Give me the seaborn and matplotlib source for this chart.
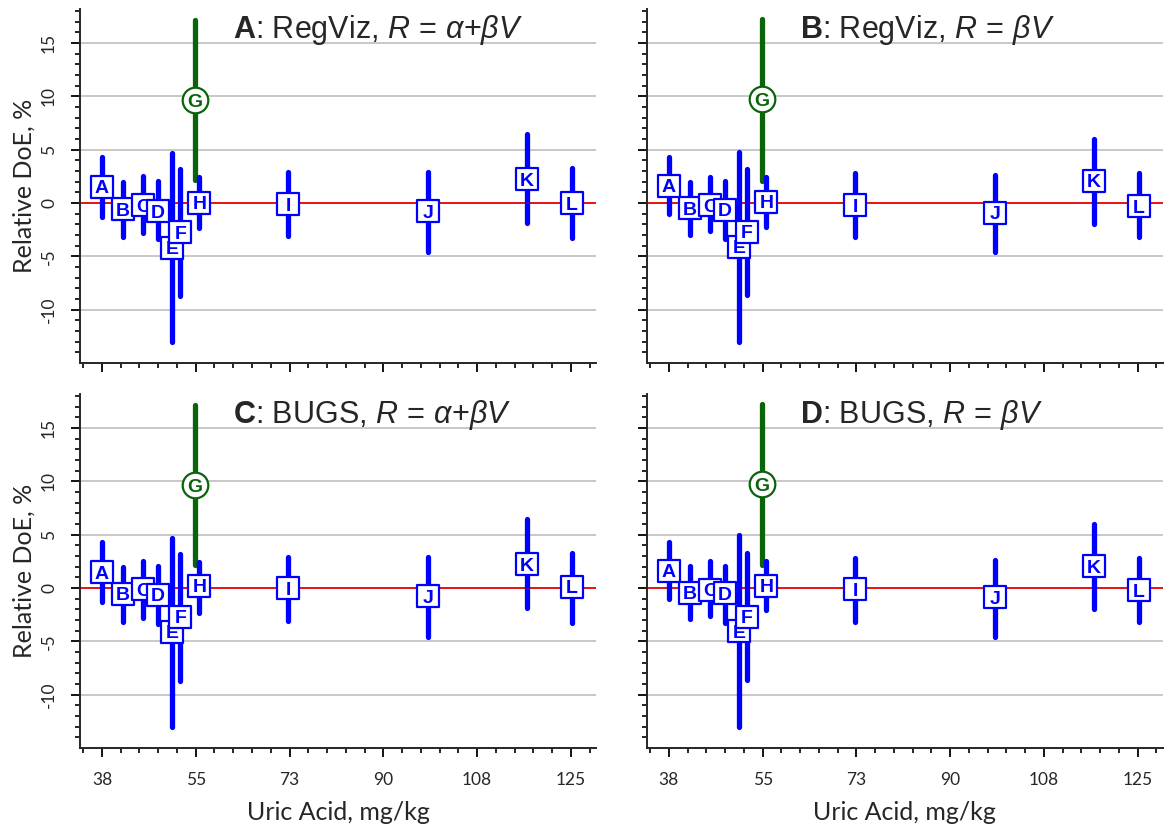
import numpy as np
import pandas as pd
import seaborn as sns
import matplotlib.pyplot as plt
from matplotlib.ticker import FixedLocator

# --- data ---
labels = ["A", "B", "C", "D", "E", "F", "G", "H", "I", "J", "K", "L"]
uric = [37.5, 41.4, 45.2, 48.0, 50.6, 52.1, 54.8, 55.7, 72.3, 98.4, 116.8, 125.2]

# A: RegViz, R = a + bV
est_a = [1.55, -0.6, -0.2, -0.75, -4.2, -2.75, 9.65, 0.05, -0.1, -0.75, 2.25, 0.0]
lo_a = [-1.3, -3.2, -2.8, -3.4, -13.0, -8.7, 2.15, -2.35, -3.1, -4.55, -1.85, -3.25]
hi_a = [4.3, 2.0, 2.5, 2.05, 4.7, 3.15, 17.15, 2.45, 2.9, 2.95, 6.45, 3.25]

# B: RegViz, R = bV
est_b = [1.6, -0.5, -0.2, -0.65, -4.1, -2.7, 9.75, 0.1, -0.2, -0.9, 2.1, -0.3]
lo_b = [-1.0, -2.95, -2.6, -3.4, -13.0, -8.6, 2.1, -2.2, -3.2, -4.6, -1.95, -3.2]
hi_b = [4.3, 2.0, 2.45, 2.05, 4.8, 3.15, 17.3, 2.45, 2.8, 2.6, 6.05, 2.8]

# C: BUGS, R = a + bV
est_c = [1.5, -0.55, -0.1, -0.65, -4.1, -2.7, 9.65, 0.2, 0.0, -0.75, 2.25, 0.1]
lo_c = [-1.3, -3.2, -2.8, -3.4, -13.0, -8.7, 2.15, -2.35, -3.1, -4.55, -1.85, -3.3]
hi_c = [4.3, 2.0, 2.5, 2.05, 4.7, 3.15, 17.15, 2.45, 2.9, 2.95, 6.45, 3.25]

# D: BUGS, R = bV
est_d = [1.6, -0.45, -0.15, -0.5, -4.05, -2.7, 9.75, 0.2, -0.1, -0.85, 2.05, -0.2]
lo_d = [-1.0, -2.9, -2.6, -3.3, -13.0, -8.6, 2.2, -2.1, -3.2, -4.6, -1.95, -3.2]
hi_d = [4.27, 2.02, 2.5, 2.08, 4.97, 3.3, 17.3, 2.5, 2.8, 2.6, 6.05, 2.8]

xticks = [37.5, 55, 72.5, 90, 107.5, 125]
xticklabels = ["38", "55", "73", "90", "108", "125"]
yticks = [-10, -5, 0, 5, 10, 15]

panels = [
    ("A", "RegViz", r"R\,=\,\alpha{+}\beta V", est_a, lo_a, hi_a),
    ("B", "RegViz", r"R\,=\,\beta V", est_b, lo_b, hi_b),
    ("C", "BUGS", r"R\,=\,\alpha{+}\beta V", est_c, lo_c, hi_c),
    ("D", "BUGS", r"R\,=\,\beta V", est_d, lo_d, hi_d),
]

BLUE = "#0000ff"
GREEN = "#0a640a"

sns.set_style("ticks")
plt.rcParams["font.family"] = ["Liberation Sans", "DejaVu Sans"]
plt.rcParams["mathtext.fontset"] = "custom"
plt.rcParams["mathtext.rm"] = "Liberation Sans"
plt.rcParams["mathtext.it"] = "Liberation Sans:italic"
plt.rcParams["mathtext.bf"] = "Liberation Sans:bold"

fig = plt.figure(figsize=(11.75, 8.32), dpi=100)
positions = [
    [0.0681, 0.5637, 0.4391, 0.4255],
    [0.5506, 0.5637, 0.4391, 0.4255],
    [0.0681, 0.1010, 0.4391, 0.4255],
    [0.5506, 0.1010, 0.4391, 0.4255],
]

for k, (letter, method, model, est, lo, hi) in enumerate(panels):
    ax = fig.add_axes(positions[k])
    df = pd.DataFrame({"label": labels, "uric": uric, "est": est, "lo": lo, "hi": hi})
    df["color"] = np.where(df["label"] == "G", GREEN, BLUE)

    ax.set_xlim(33.4, 129.7)
    ax.set_ylim(-15, 18.2)

    for yv in yticks:
        if yv != 0:
            ax.axhline(yv, color="#c4c4c4", lw=1.3, zorder=0)
    ax.axhline(0, color="#e00000", lw=1.3, zorder=1)

    ax.vlines(df["uric"], df["lo"], df["hi"], colors=df["color"], lw=3.8,
              capstyle="round", zorder=2)

    for i, row in df.iterrows():
        is_g = row["label"] == "G"
        sns.scatterplot(x=[row["uric"]], y=[row["est"]], ax=ax,
                        marker="o" if is_g else "s", s=340 if is_g else 270,
                        color="white", edgecolor=row["color"], linewidth=1.6,
                        zorder=3 + 2 * i, legend=False)
        ax.text(row["uric"], row["est"], row["label"], color=row["color"],
                fontsize=14, fontweight="bold", ha="center",
                va="center_baseline", zorder=4 + 2 * i)

    ax.text(0.296, 0.94, r"$\mathbf{%s}$: %s, $%s$" % (letter, method, model),
            transform=ax.transAxes, fontsize=22, ha="left", va="center")

    sns.despine(ax=ax)
    for sp in ["left", "bottom"]:
        ax.spines[sp].set_linewidth(1.4)
    ax.xaxis.set_major_locator(FixedLocator(xticks))
    ax.xaxis.set_minor_locator(FixedLocator(np.arange(34, 129.6, 3.5)))
    ax.yaxis.set_major_locator(FixedLocator(yticks))
    ax.yaxis.set_minor_locator(FixedLocator(np.arange(-14, 18.1, 1)))
    ax.tick_params(which="major", length=6.5, width=1.3, color="black")
    ax.tick_params(which="minor", length=3.5, width=1.2, color="black")
    ax.tick_params(axis="x", which="major", pad=11)
    ax.tick_params(axis="y", which="major", pad=10)
    ax.set_xlabel("")
    ax.set_ylabel("")

    if k >= 2:
        ax.set_xticklabels(xticklabels, family="Lato", fontsize=12.5)
        ax.set_xlabel("Uric Acid, mg/kg", family="Lato", fontsize=18, labelpad=9)
    else:
        ax.set_xticklabels([])
    if k % 2 == 0:
        ax.set_yticklabels([str(v) for v in yticks], family="Lato", fontsize=12.5,
                           rotation=90, va="center")
        ax.set_ylabel("Relative DoE, %", family="Lato", fontsize=18, labelpad=4)
    else:
        ax.set_yticklabels([])

fig.savefig("out.png", dpi=100)
